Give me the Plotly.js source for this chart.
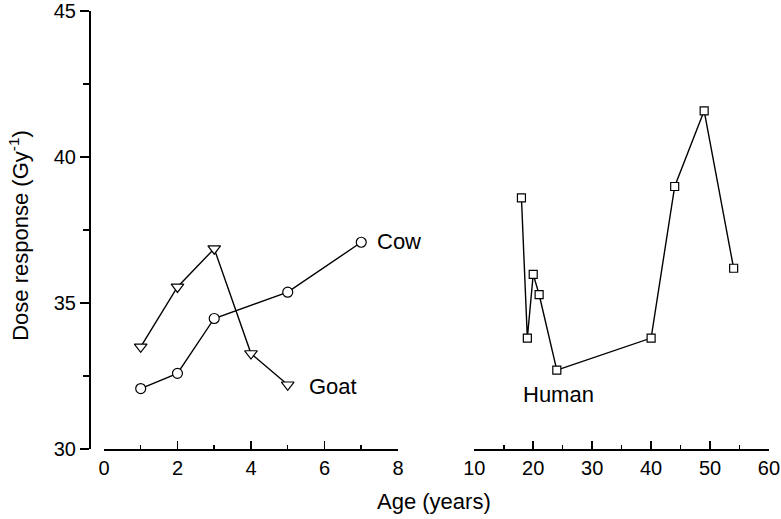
<!DOCTYPE html>
<html>
<head>
<meta charset="utf-8">
<script src="https://cdn.plot.ly/plotly-3.0.1.min.js"></script>
<style>html,body{margin:0;padding:0;background:#fff;}#chart{width:781px;height:519px;}</style>
</head>
<body>
<div id="chart"></div>
<script>
// Data
const goatAge = [1, 2, 3, 4, 5];
const goatDose = [33.5, 35.55, 36.86, 33.27, 32.2];
const cowAge = [1, 2, 3, 5, 7];
const cowDose = [32.07, 32.59, 34.47, 35.37, 37.08];
const humanAge = [18, 19, 20, 21, 24, 40, 44, 49, 54];
const humanDose = [38.6, 33.8, 35.98, 35.29, 32.7, 33.8, 38.99, 41.58, 36.19];
const xTicksLeft = [0, 2, 4, 6, 8];
const xTicksRight = [10, 20, 30, 40, 50, 60];
const yTicks = [30, 35, 40, 45];

const fam = 'Liberation Sans, Arial, sans-serif';
const tickFont = {family: fam, size: 20, color: '#000'};
const labelFont = {family: fam, size: 22, color: '#000'};
const lineStyle = {color: '#000', width: 1.4};

const traces = [
  {x: goatAge, y: goatDose, xaxis: 'x', yaxis: 'y', mode: 'lines+markers', name: 'Goat',
   line: lineStyle, marker: {symbol: 'triangle-down', size: 11, color: '#fff', line: {color: '#000', width: 1.2}}},
  {x: cowAge, y: cowDose, xaxis: 'x', yaxis: 'y', mode: 'lines+markers', name: 'Cow',
   line: lineStyle, marker: {symbol: 'circle', size: 10, color: '#fff', line: {color: '#000', width: 1.2}}},
  {x: humanAge, y: humanDose, xaxis: 'x2', yaxis: 'y', mode: 'lines+markers', name: 'Human',
   line: lineStyle, marker: {symbol: 'square', size: 8, color: '#fff', line: {color: '#000', width: 1.2}}}
];

const axisCommon = {showgrid: false, zeroline: false, showline: true, linecolor: '#000', linewidth: 1.5,
  ticks: 'inside', ticklen: 8, tickwidth: 1.5, tickcolor: '#000', tickfont: tickFont, fixedrange: true};

const layout = {
  width: 781, height: 519,
  margin: {l: 89, r: 12, t: 11, b: 70},
  paper_bgcolor: '#fff', plot_bgcolor: '#fff',
  showlegend: false,
  font: tickFont,
  xaxis: Object.assign({}, axisCommon, {domain: [0.022, 0.4544], range: [0, 8], anchor: 'y',
    tickmode: 'array', tickvals: xTicksLeft, ticktext: xTicksLeft.map(String),
    minor: {dtick: 1, tick0: 0, ticks: 'inside', ticklen: 4, tickwidth: 1.5, tickcolor: '#000'}}),
  xaxis2: Object.assign({}, axisCommon, {domain: [0.5666, 1.0], range: [10, 60], anchor: 'y',
    tickmode: 'array', tickvals: xTicksRight, ticktext: xTicksRight.map(String),
    minor: {dtick: 5, tick0: 0, ticks: 'inside', ticklen: 4, tickwidth: 1.5, tickcolor: '#000'}}),
  yaxis: Object.assign({}, axisCommon, {range: [30, 45], anchor: 'free', position: 0,
    ticks: 'outside', ticklen: 9, tickvals: yTicks, ticktext: yTicks.map(String), tickmode: 'array',
    minor: {dtick: 2.5, tick0: 0, ticks: 'outside', ticklen: 6, tickwidth: 1.5, tickcolor: '#000'}}),
  annotations: [
    {xref: 'x', yref: 'y', x: 7.37, y: 37.1, text: 'Cow', showarrow: false, xanchor: 'left', yanchor: 'middle', font: labelFont},
    {xref: 'x', yref: 'y', x: 5.53, y: 32.15, text: 'Goat', showarrow: false, xanchor: 'left', yanchor: 'middle', font: labelFont},
    {xref: 'x2', yref: 'y', x: 17.9, y: 31.85, text: 'Human', showarrow: false, xanchor: 'left', yanchor: 'middle', font: labelFont},
    {xref: 'paper', yref: 'paper', x: 0.507, y: -0.121, text: 'Age (years)', showarrow: false, xanchor: 'center', yanchor: 'middle', font: labelFont},
    {xref: 'paper', yref: 'paper', x: -0.103, y: 0.489, text: 'Dose response (Gy<sup>-1</sup>)', showarrow: false, textangle: -90, xanchor: 'center', yanchor: 'middle', font: labelFont}
  ]
};

Plotly.newPlot('chart', traces, layout, {staticPlot: true, displayModeBar: false});
</script>
</body>
</html>
